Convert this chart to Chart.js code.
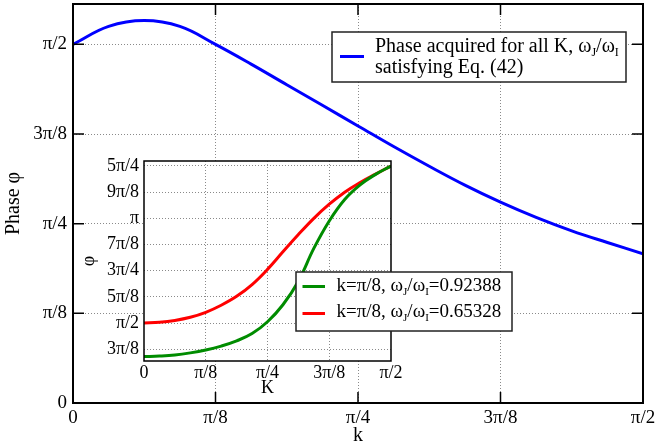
<!DOCTYPE html>
<html>
<head>
<meta charset="utf-8">
<script src="https://cdn.jsdelivr.net/npm/chart.js@4.4.1/dist/chart.umd.min.js"></script>
<style>
  html, body { margin: 0; padding: 0; background: #fff; }
  #wrap { position: relative; width: 657px; height: 448px; }
  #mainChart { position: absolute; left: 0; top: 0; }
  #insetChart { position: absolute; left: 70px; top: 150px; }
</style>
</head>
<body>
<div id="wrap">
  <canvas id="mainChart" width="657" height="448"></canvas>
  <canvas id="insetChart" width="450" height="250"></canvas>
</div>
<script>
// all k, K and phase values are in units of pi/8
const mainK = [0, 0.25, 0.5, 0.75, 1, 1.25, 1.5, 1.75, 2, 2.25, 2.5, 2.75, 3, 3.25, 3.5, 3.75, 4];
const mainPhase = [4.00, 4.20, 4.265, 4.20, 4.00, 3.78, 3.55, 3.32, 3.09, 2.86, 2.64, 2.43, 2.24, 2.07, 1.92, 1.79, 1.665];

const insetK = [0, 0.25, 0.5, 0.75, 1, 1.25, 1.5, 1.75, 2, 2.25, 2.5, 2.75, 3, 3.25, 3.5, 3.75, 4];
const phaseGreen = [2.72, 2.74, 2.78, 2.86, 2.97, 3.12, 3.32, 3.60, 4.05, 4.70, 5.60, 6.85, 7.90, 8.72, 9.28, 9.68, 10.0];
const phaseRed = [4.00, 4.03, 4.10, 4.22, 4.41, 4.68, 5.02, 5.47, 6.05, 6.72, 7.38, 8.00, 8.54, 9.00, 9.37, 9.69, 10.0];

const mainXTickVals = [0, 1, 2, 3, 4];
const mainXTickLabels = ['0', 'π/8', 'π/4', '3π/8', 'π/2'];
const mainYTickVals = [0, 1, 2, 3, 4];
const mainYTickLabels = ['0', 'π/8', 'π/4', '3π/8', 'π/2'];
const insetXTickVals = [0, 1, 2, 3, 4];
const insetXTickLabels = ['0', 'π/8', 'π/4', '3π/8', 'π/2'];
const insetYTickVals = [3, 4, 5, 6, 7, 8, 9, 10];
const insetYTickLabels = ['3π/8', 'π/2', '5π/8', '3π/4', '7π/8', 'π', '9π/8', '5π/4'];

const SERIF = '"Liberation Serif", "Times New Roman", serif';

function points(xs, ys) {
    return xs.map((x, i) => ({ x: x, y: ys[i] }));
}

// dotted grid, hidden on the frame edges
function dottedGrid(lo, hi) {
    return {
        drawTicks: false,
        lineWidth: 1,
        color: (c) => (c.tick && (c.tick.value === lo || c.tick.value === hi)) ? 'rgba(0,0,0,0)' : '#8a8a8a'
    };
}

// one axis with fixed tick values and pi labels
function axis(min, max, vals, labels, size, pad, title, titlePad, titleSize, fixW, fixH) {
    return {
        type: 'linear', min: min, max: max,
        afterBuildTicks: (s) => { s.ticks = vals.map(v => ({ value: v })); },
        afterFit: (s) => {
            if (fixW !== undefined) s.width = fixW;
            if (fixH !== undefined) s.height = fixH;
            s.paddingTop = 0; s.paddingBottom = 0; s.paddingLeft = 0; s.paddingRight = 0;
        },
        grid: dottedGrid(min, max),
        border: { display: false, dash: [1, 2] },
        ticks: {
            color: '#000', padding: pad, maxRotation: 0, autoSkip: false,
            font: { family: SERIF, size: size },
            callback: (v) => labels[vals.indexOf(v)]
        },
        title: { display: true, text: title, color: '#000', padding: titlePad, font: { family: SERIF, size: titleSize } }
    };
}

// draws "text_X" with X as a subscript
function drawRich(ctx, text, x, y, size) {
    const parts = text.split(/_(\w)/);
    parts.forEach((p, i) => {
        const sub = i % 2 === 1;
        ctx.font = (sub ? Math.round(size * 0.6) : size) + 'px ' + SERIF;
        ctx.fillText(p, x, sub ? y + size * 0.22 : y);
        x += ctx.measureText(p).width;
    });
}

const framePlugin = {
    id: 'frame',
    beforeDraw(chart, args, opts) {
        if (!opts.fill) return;
        const { ctx, chartArea: a } = chart;
        ctx.save();
        ctx.fillStyle = opts.fill;
        ctx.fillRect(a.left, a.top, a.right - a.left, a.bottom - a.top);
        ctx.restore();
    },
    afterDraw(chart, args, opts) {
        const { ctx, chartArea: a, scales } = chart;
        ctx.save();
        ctx.strokeStyle = '#000';
        if (opts.tickLength) {
            const L = opts.tickLength;
            ctx.lineWidth = 1.5;
            ctx.beginPath();
            scales.x.ticks.forEach(t => {
                const px = scales.x.getPixelForValue(t.value);
                ctx.moveTo(px, a.bottom); ctx.lineTo(px, a.bottom - L);
                ctx.moveTo(px, a.top); ctx.lineTo(px, a.top + L);
            });
            scales.y.ticks.forEach(t => {
                const py = scales.y.getPixelForValue(t.value);
                ctx.moveTo(a.left, py); ctx.lineTo(a.left + L, py);
                ctx.moveTo(a.right, py); ctx.lineTo(a.right - L, py);
            });
            ctx.stroke();
        }
        ctx.lineWidth = opts.width;
        ctx.strokeRect(a.left, a.top, a.right - a.left, a.bottom - a.top);

        const lg = opts.legend;
        if (lg) {
            ctx.fillStyle = '#fff';
            ctx.fillRect(lg.x, lg.y, lg.w, lg.h);
            ctx.lineWidth = 1.5;
            ctx.strokeStyle = '#222';
            ctx.strokeRect(lg.x, lg.y, lg.w, lg.h);
            ctx.fillStyle = '#000';
            ctx.textBaseline = 'alphabetic';
            chart.data.datasets.forEach((ds, i) => {
                const ly = lg.lineY[i];
                ctx.strokeStyle = ds.borderColor;
                ctx.lineWidth = 3;
                ctx.beginPath();
                ctx.moveTo(lg.lineX1, ly);
                ctx.lineTo(lg.lineX2, ly);
                ctx.stroke();
                ds.label.split('\n').forEach((line, j) => {
                    drawRich(ctx, line, lg.textX, lg.baseY[i] + j * lg.lineGap, lg.size);
                });
            });
        }
        ctx.restore();
    }
};

new Chart(document.getElementById('mainChart'), {
    type: 'line',
    data: {
        datasets: [{
            label: 'Phase acquired for all K, ω_J/ω_I\nsatisfying Eq. (42)',
            data: points(mainK, mainPhase),
            borderColor: '#0000ff',
            borderWidth: 3,
            pointRadius: 0,
            tension: 0.4
        }]
    },
    options: {
        responsive: false,
        animation: false,
        devicePixelRatio: 1,
        layout: { padding: { left: 0, right: 14, top: 4, bottom: 0 } },
        plugins: {
            legend: { display: false },
            tooltip: { enabled: false },
            frame: {
                width: 2,
                tickLength: 11,
                legend: {
                    x: 332, y: 32, w: 294, h: 50,
                    lineX1: 340, lineX2: 364, lineY: [56.5],
                    textX: 375, baseY: [52], lineGap: 21, size: 20
                }
            }
        },
        scales: {
            x: axis(0, 4, mainXTickVals, mainXTickLabels, 19, 4, 'k', { top: 0, bottom: 0 }, 20, undefined, 45),
            y: axis(0, 4.45, mainYTickVals, mainYTickLabels, 19, 6, 'Phase φ', { top: 2, bottom: 0 }, 20, 73, undefined)
        }
    },
    plugins: [framePlugin]
});

new Chart(document.getElementById('insetChart'), {
    type: 'line',
    data: {
        datasets: [{
            label: 'k=π/8, ω_J/ω_I=0.92388',
            data: points(insetK, phaseGreen),
            borderColor: '#008c00',
            borderWidth: 3,
            pointRadius: 0,
            tension: 0.4
        }, {
            label: 'k=π/8, ω_J/ω_I=0.65328',
            data: points(insetK, phaseRed),
            borderColor: '#ff0000',
            borderWidth: 3,
            pointRadius: 0,
            tension: 0.4
        }]
    },
    options: {
        responsive: false,
        animation: false,
        devicePixelRatio: 1,
        layout: { padding: { left: 0, right: 129, top: 11, bottom: 0 } },
        plugins: {
            legend: { display: false },
            tooltip: { enabled: false },
            frame: {
                fill: '#fff',
                width: 1.5,
                tickLength: 0,
                legend: {
                    x: 226, y: 122, w: 216, h: 59,
                    lineX1: 232.5, lineX2: 255, lineY: [136.5, 163.5],
                    textX: 266.5, baseY: [141, 167], lineGap: 0, size: 19
                }
            }
        },
        scales: {
            x: axis(0, 4, insetXTickVals, insetXTickLabels, 18, 1, 'K', { top: 0, bottom: 1 }, 18, undefined, 39),
            y: axis(2.55, 10.19, insetYTickVals, insetYTickLabels, 18, 5, 'φ', { top: 8, bottom: 0 }, 18, 74, undefined)
        }
    },
    plugins: [framePlugin]
});
</script>
</body>
</html>
